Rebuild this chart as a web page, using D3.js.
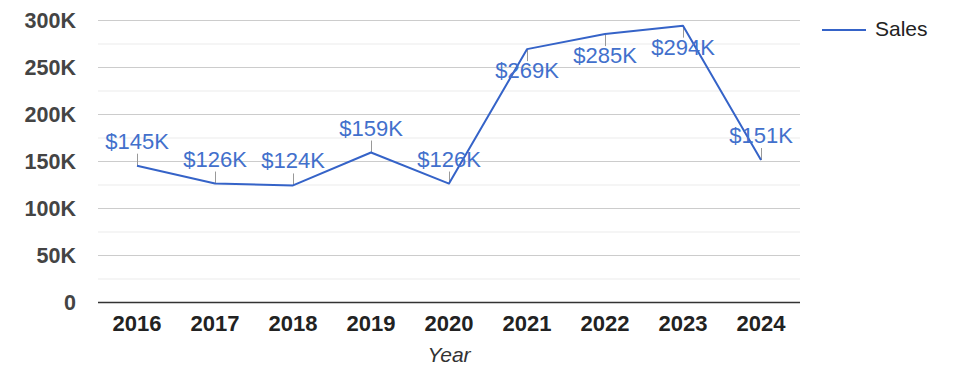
<!DOCTYPE html>
<html>
<head>
<meta charset="utf-8">
<script src="https://cdn.jsdelivr.net/npm/d3@7"></script>
<style>
  html, body { margin: 0; padding: 0; background: #fff; }
  svg { display: block; font-family: "Liberation Sans", Arial, sans-serif; }
</style>
</head>
<body>
<svg id="chart" width="975" height="378"></svg>
<script>
const years = ["2016", "2017", "2018", "2019", "2020", "2021", "2022", "2023", "2024"];
const sales = [145, 126, 124, 159, 126, 269, 285, 294, 151];
const yTicks = [0, 50, 100, 150, 200, 250, 300];
const minorTicks = [25, 75, 125, 175, 225, 275];
const seriesName = "Sales";
const xTitle = "Year";

(function () {
const svg = d3.select("#chart");
const mLeft = 98, mRight = 800, mTop = 20, mBottom = 302;
const color = "#3563c8";
const labelColor = "#4270cc";

const x = d3.scaleBand().domain(years).range([mLeft, mRight]);
const y = d3.scaleLinear().domain([0, 300]).range([mBottom, mTop]);

svg.append("g").selectAll("line").data(minorTicks).join("line")
  .attr("x1", mLeft).attr("x2", mRight)
  .attr("y1", d => y(d) + 0.5).attr("y2", d => y(d) + 0.5)
  .attr("stroke", "#ebebeb").attr("stroke-width", 1);

svg.append("g").selectAll("line").data(yTicks.filter(d => d !== 0)).join("line")
  .attr("x1", mLeft).attr("x2", mRight)
  .attr("y1", d => y(d) + 0.5).attr("y2", d => y(d) + 0.5)
  .attr("stroke", "#cccccc").attr("stroke-width", 1);

const yAxis = d3.axisLeft(y).tickValues(yTicks).tickSize(0).tickPadding(0)
  .tickFormat(d => d === 0 ? "0" : d + "K");
const yg = svg.append("g").attr("transform", `translate(76,0)`).call(yAxis);
yg.select(".domain").remove();
yg.selectAll("text")
  .attr("font-family", "'Liberation Sans', Arial, sans-serif")
  .attr("font-size", 21.5).attr("font-weight", "bold").attr("fill", "#444")
  .attr("dy", "0.36em");

const xAxis = d3.axisBottom(x).tickSize(0).tickPadding(0);
const xg = svg.append("g").attr("transform", `translate(0,${mBottom})`).call(xAxis);
xg.select(".domain").remove();
xg.selectAll("text")
  .attr("font-family", "'Liberation Sans', Arial, sans-serif")
  .attr("font-size", 22).attr("font-weight", "bold").attr("fill", "#222")
  .attr("y", 29).attr("dy", 0);

svg.append("line")
  .attr("x1", mLeft).attr("x2", mRight)
  .attr("y1", mBottom + 0.5).attr("y2", mBottom + 0.5)
  .attr("stroke", "#333").attr("stroke-width", 1.5);

svg.append("text")
  .attr("x", (mLeft + mRight) / 2).attr("y", 362)
  .attr("text-anchor", "middle")
  .attr("font-size", 21).attr("font-style", "italic").attr("fill", "#333")
  .text(xTitle);

const data = years.map((yr, i) => ({ year: yr, value: sales[i] }));
const cx = d => x(d.year) + x.bandwidth() / 2;

const below = d => y(d.value) < 60;
svg.append("g").selectAll("line").data(data).join("line")
  .attr("x1", d => cx(d) + 0.5).attr("x2", d => cx(d) + 0.5)
  .attr("y1", d => y(d.value))
  .attr("y2", d => below(d) ? y(d.value) + 12 : y(d.value) - 12)
  .attr("stroke", "#999").attr("stroke-width", 1);

svg.append("path").datum(data)
  .attr("fill", "none").attr("stroke", color).attr("stroke-width", 2)
  .attr("stroke-linejoin", "round")
  .attr("d", d3.line().x(cx).y(d => y(d.value)));

svg.append("g").selectAll("text").data(data).join("text")
  .attr("x", d => cx(d))
  .attr("y", d => below(d) ? y(d.value) + 29 : y(d.value) - 17)
  .attr("text-anchor", "middle")
  .attr("font-size", 22).attr("fill", labelColor)
  .text(d => "$" + d.value + "K");

svg.append("line").attr("x1", 822).attr("x2", 866).attr("y1", 30).attr("y2", 30)
  .attr("stroke", color).attr("stroke-width", 2);
svg.append("text").attr("x", 875).attr("y", 36)
  .attr("font-size", 21).attr("fill", "#222").text(seriesName);
})();
</script>
</body>
</html>
